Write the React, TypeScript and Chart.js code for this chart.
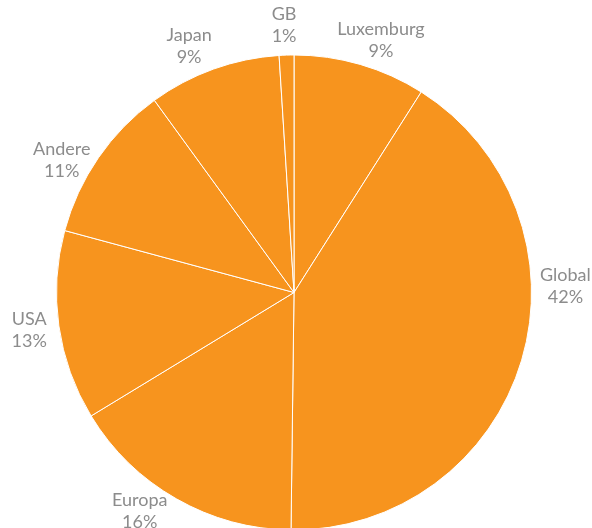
import React, { useEffect, useRef } from "react";
import { Chart, registerables } from "chart.js";

Chart.register(...registerables);

const categories = ["Luxemburg", "Global", "Europa", "USA", "Andere", "Japan", "GB"];
const shares = [9, 41.2, 16.1, 12.9, 10.8, 9, 1];
const percentLabels = ["9%", "42%", "16%", "13%", "11%", "9%", "1%"];

const ORANGE = "#F7941E";
const TEXT = "#8C8C8C";
const VIEW_W = 592;
const VIEW_H = 528;
const CANVAS_H = 560;

const labelPlugin = {
  id: "outerLabels",
  afterDraw(chart: any) {
    const ctx = chart.ctx;
    const meta = chart.getDatasetMeta(0);
    ctx.save();
    ctx.font = "18px Lato, 'Open Sans', sans-serif";
    ctx.fillStyle = TEXT;
    ctx.textAlign = "center";
    ctx.textBaseline = "alphabetic";
    const lineGap = 22;
    const twoPi = Math.PI * 2;
    meta.data.forEach((arc: any, i: number) => {
      const { x: cx, y: cy, startAngle, endAngle, outerRadius } = arc.getProps(
        ["x", "y", "startAngle", "endAngle", "outerRadius"],
        true
      );
      let rl = outerRadius + 30;
      let a = (startAngle + endAngle) / 2;
      // upper labels are pulled slightly toward the horizontal sides
      if (Math.sin(a) < 0) a = a - 0.09 * Math.sin(2 * a);
      let s = startAngle, e = endAngle;
      while (s < 0) { s += twoPi; e += twoPi; }
      const spansRight = (s <= twoPi && e >= twoPi) || (s <= 0 && e >= 0);
      if (spansRight && e - s > Math.PI / 2) {
        a = -0.025;
        rl = outerRadius + 34;
      }
      let x = cx + rl * Math.cos(a);
      let y = cy + rl * Math.sin(a);
      const maxY = VIEW_H - 17;
      if (y > maxY) {
        y = maxY;
        const dx = Math.sqrt(Math.max(rl * rl - (y - cy) * (y - cy), 0));
        x = Math.cos(a) < 0 ? cx - dx : cx + dx;
      }
      ctx.fillText(categories[i], x, y - lineGap / 2 + 6);
      ctx.fillText(percentLabels[i], x, y + lineGap / 2 + 6);
    });
    ctx.restore();
  },
};

export default function App() {
  const ref = useRef<HTMLCanvasElement | null>(null);
  useEffect(() => {
    if (!ref.current) return;
    const chart = new Chart(ref.current, {
      type: "pie",
      data: {
        labels: categories,
        datasets: [
          {
            data: shares,
            backgroundColor: ORANGE,
            borderColor: "#FFFFFF",
            borderWidth: 1,
          },
        ],
      },
      options: {
        responsive: false,
        animation: false,
        layout: { padding: { left: 56, right: 60, top: 54.5, bottom: CANVAS_H - 54.5 - 476 } },
        plugins: {
          legend: { display: false },
          tooltip: { enabled: false },
        },
      },
      plugins: [labelPlugin],
    });
    return () => chart.destroy();
  }, []);
  return (
    <div
      style={{
        position: "absolute",
        left: 0,
        top: 0,
        width: VIEW_W,
        height: VIEW_H,
        overflow: "hidden",
        background: "#fff",
      }}
    >
      <canvas ref={ref} width={VIEW_W} height={CANVAS_H} style={{ display: "block" }} />
    </div>
  );
}
